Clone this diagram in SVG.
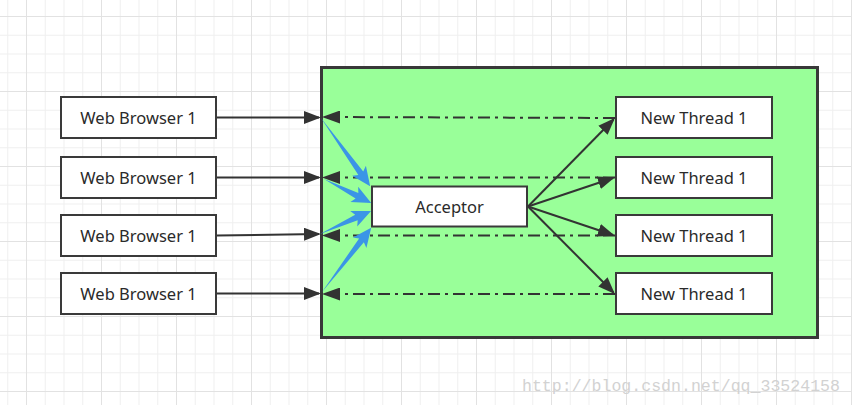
<svg xmlns="http://www.w3.org/2000/svg" width="852" height="405" viewBox="0 0 852 405">
<style>
.box{fill:#fff;stroke:#3a3a3a;stroke-width:2}
.lbl{font-family:"Noto Sans","Liberation Sans",sans-serif;font-size:16.5px;fill:#2a2a2a;text-anchor:middle}
.solid{fill:none;stroke:#333;stroke-width:2}
.dash{fill:none;stroke:#333;stroke-width:2;stroke-dasharray:12 5 3 5}
.blue{fill:#3b95e6}
</style>
<defs>
<pattern id="grid" x="26" y="16" width="75" height="75" patternUnits="userSpaceOnUse">
<rect width="75" height="75" fill="#fff"/>
<path d="M19.25 0V75M38 0V75M56.75 0V75M0 19.25H75M0 38H75M0 56.75H75" stroke="#f0f0f0" stroke-width="1"/>
<path d="M0.5 0V75M0 0.5H75" stroke="#e2e2e2" stroke-width="1"/>
</pattern>
<marker id="arr" viewBox="0 0 17 13" refX="15" refY="6.5" markerWidth="17" markerHeight="13" markerUnits="userSpaceOnUse" orient="auto">
<path d="M0,0 L17,6.5 L0,13 Z" fill="#333"/>
</marker>
<marker id="arr2" viewBox="0 0 18 13" refX="16" refY="6.5" markerWidth="18" markerHeight="13" markerUnits="userSpaceOnUse" orient="auto">
<path d="M0,0 L18,6.5 L0,13 Z" fill="#333"/>
</marker>
</defs>
<rect width="852" height="405" fill="url(#grid)"/>
<text x="522" y="391" font-family="Liberation Mono, monospace" font-size="16.6" fill="#d2d2d2" textLength="318" lengthAdjust="spacingAndGlyphs">http://blog.csdn.net/qq_33524158</text>

<g id="container">
<rect x="321.5" y="67.5" width="496" height="270" fill="#99ff99" stroke="#383838" stroke-width="3"/>
</g>

<g id="browser1"><rect class="box" x="61" y="97" width="155" height="41"/><text class="lbl" x="138.5" y="123.5">Web Browser 1</text></g>
<g id="browser2"><rect class="box" x="61" y="157" width="155" height="41"/><text class="lbl" x="138.5" y="183.5">Web Browser 1</text></g>
<g id="browser3"><rect class="box" x="61" y="215" width="155" height="41"/><text class="lbl" x="138.5" y="241.5">Web Browser 1</text></g>
<g id="browser4"><rect class="box" x="61" y="273" width="155" height="41"/><text class="lbl" x="138.5" y="299.5">Web Browser 1</text></g>

<g id="acceptor"><rect class="box" x="372" y="186.5" width="155" height="40"/><text class="lbl" x="449.5" y="212.5">Acceptor</text></g>

<g id="thread1"><rect class="box" x="616" y="97" width="156" height="41"/><text class="lbl" x="694" y="123.5">New Thread 1</text></g>
<g id="thread2"><rect class="box" x="616" y="157" width="156" height="41"/><text class="lbl" x="694" y="183.5">New Thread 1</text></g>
<g id="thread3"><rect class="box" x="616" y="215" width="156" height="41"/><text class="lbl" x="694" y="241.5">New Thread 1</text></g>
<g id="thread4"><rect class="box" x="616" y="273" width="156" height="41"/><text class="lbl" x="694" y="299.5">New Thread 1</text></g>

<g id="connectors">
<path class="solid" d="M217,117.5 H319" marker-end="url(#arr)"/>
<path class="solid" d="M217,177.5 H319" marker-end="url(#arr)"/>
<path class="solid" d="M217,235.5 L319,234" marker-end="url(#arr)"/>
<path class="solid" d="M217,293.5 H319" marker-end="url(#arr)"/>

<path class="dash" d="M615,118 L324,117" marker-end="url(#arr2)"/>
<path class="dash" d="M615,177.5 H324" marker-end="url(#arr2)"/>
<path class="dash" d="M615,235.5 H324" marker-end="url(#arr2)"/>
<path class="dash" d="M615,294 H324" marker-end="url(#arr2)"/>

<path class="solid" d="M528,206.5 L613.5,119.5" marker-end="url(#arr)"/>
<path class="solid" d="M528,206.5 L613,178" marker-end="url(#arr)"/>
<path class="solid" d="M528,206.5 L613,235" marker-end="url(#arr)"/>
<path class="solid" d="M528,206.5 L613.5,292.5" marker-end="url(#arr)"/>

<path class="blue" transform="translate(321 118) rotate(54.2)" d="M0,0 L68,-3 L65,-8.5 L84,0 L65,8.5 L68,3 Z"/>
<path class="blue" transform="translate(324 179) rotate(27)" d="M0,0 L37,-3 L34,-8.5 L53,0 L34,8.5 L37,3 Z"/>
<path class="blue" transform="translate(320 234) rotate(-24.3)" d="M0,0 L40,-3 L37,-8.5 L56,0 L37,8.5 L40,3 Z"/>
<path class="blue" transform="translate(322 292) rotate(-52.6)" d="M0,0 L65,-3 L62,-8.5 L81,0 L62,8.5 L65,3 Z"/>
</g>
</svg>
